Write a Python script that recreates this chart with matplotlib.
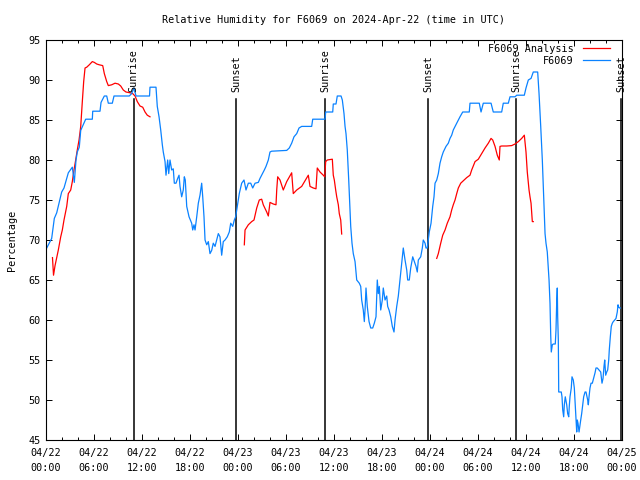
import matplotlib
matplotlib.use("Agg")
import matplotlib.pyplot as plt
import numpy as np

# ---------------- data ----------------
title = "Relative Humidity for F6069 on 2024-Apr-22 (time in UTC)"
ylabel = "Percentage"

# hours since 2024-04-22 00:00 UTC
obs_hours = [0.09, 0.71, 1.04, 1.34, 1.96, 2.25, 2.79, 3.29, 3.54, 3.75, 3.91, 4.16, 4.34, 4.96,
             5.79, 5.84, 6.75, 6.88, 7.29, 7.59, 7.79, 8.29, 8.5, 10.41, 10.71, 11.0, 11.25,
             12.94, 13.0, 13.75, 13.91, 14.13, 14.34, 14.54, 14.66, 14.88, 15.0, 15.21, 15.34,
             15.5, 15.71, 15.91, 16.04, 16.25, 16.46, 16.63, 16.75, 16.96, 17.16, 17.29, 17.41,
             17.59, 17.88, 18.21, 18.34, 18.5, 18.63, 18.84, 19.04, 19.25, 19.46, 19.59, 19.75,
             19.88, 20.09, 20.29, 20.5, 20.71, 20.91, 21.13, 21.34, 21.54, 21.75, 21.96, 22.16,
             22.38, 22.66, 22.91, 23.09, 23.34, 23.54, 23.71, 23.91, 24.16, 24.46, 24.75, 25.0,
             25.29, 25.59, 25.84, 26.13, 26.54, 26.75, 26.96, 27.29, 27.5, 27.79, 28.0, 28.21,
             30.09, 30.41, 30.71, 31.0, 31.34, 31.63, 31.96, 33.21, 33.34, 34.88, 34.96, 35.84,
             35.91, 36.25, 36.41, 36.88, 37.04, 37.25, 37.38, 37.5, 37.66, 37.84, 37.96, 38.09,
             38.25, 38.41, 38.63, 38.84, 39.16, 39.34, 39.46, 39.66, 39.79, 39.88, 40.0, 40.16,
             40.38, 40.59, 40.84, 41.04, 41.25, 41.41, 41.54, 41.66, 41.84, 42.04, 42.16, 42.38,
             42.59, 42.71, 42.88, 43.09, 43.29, 43.5, 43.63, 43.84, 44.04, 44.25, 44.46, 44.66,
             44.88, 45.09, 45.21, 45.41, 45.59, 45.84, 46.04, 46.25, 46.41, 46.54, 46.84, 47.04,
             47.16, 47.38, 47.5, 47.66, 47.79, 47.91, 48.13, 48.34, 48.5, 48.63, 48.84, 49.04,
             49.25, 49.46, 49.66, 50.0, 50.29, 50.5, 50.71, 50.91, 51.13, 51.34, 51.54, 51.75,
             52.09, 52.91, 53.0, 54.16, 54.38, 54.66, 55.63, 55.91, 56.96, 57.16, 57.79, 58.0,
             58.63, 58.84, 59.79, 60.0, 60.29, 60.63, 60.91, 61.46, 61.63, 61.84, 62.04, 62.25,
             62.38, 62.5, 62.66, 62.75, 62.88, 63.0, 63.09, 63.16, 63.29, 63.41, 63.66, 63.75,
             63.84, 63.91, 63.96, 64.04, 64.09, 64.41, 64.5, 64.59, 64.71, 64.79, 64.91, 65.09,
             65.21, 65.34, 65.41, 65.5, 65.66, 65.75, 65.91, 66.04, 66.13, 66.25, 66.34, 66.41,
             66.5, 66.63, 66.75, 66.84, 66.96, 67.09, 67.21, 67.38, 67.5, 67.71, 67.79, 67.88,
             68.0, 68.13, 68.29, 68.5, 68.63, 68.75, 68.91, 69.34, 69.5, 69.63, 69.75, 69.84,
             69.96, 70.09, 70.21, 70.34, 70.41, 70.54, 70.66, 70.79, 70.91, 71.09, 71.25, 71.41,
             71.5, 71.59, 71.71, 71.79]
obs_rh = [69.0, 70.2, 72.7, 73.4, 76.0, 76.5, 78.4, 79.1, 77.2, 80.0, 81.0, 81.6, 83.7, 85.1,
          85.1, 86.1, 86.1, 87.2, 88.0, 88.0, 87.1, 87.1, 88.0, 88.0, 88.3, 89.0, 88.0,
          88.0, 89.1, 89.1, 86.7, 85.4, 83.75, 81.9, 81.0, 79.8, 78.1, 80.0, 78.3,
          80.0, 78.75, 78.9, 77.1, 77.1, 77.7, 78.1, 76.7, 75.4, 76.25, 77.9, 77.5,
          74.2, 72.9, 72.1, 71.25, 71.9, 71.25, 72.9, 74.6, 75.6, 77.1, 75.4, 72.9,
          70.0, 69.4, 69.8, 68.3, 68.7, 69.6, 69.2, 70.0, 70.8, 70.4, 68.1, 69.8,
          70.0, 70.4, 71.0, 72.1, 71.7, 72.5, 72.9, 74.2, 75.8, 77.1, 77.5, 76.25,
          77.1, 77.1, 76.5, 77.1, 77.2, 77.7, 78.1, 78.75, 79.2, 80.0, 81.0, 81.1,
          81.2, 81.5, 82.1, 82.9, 83.3, 84.0, 84.2, 84.2, 85.1, 85.1, 86.0, 86.0,
          87.0, 87.0, 88.0, 88.0, 87.5, 85.8, 84.2, 83.3, 81.25, 77.5, 74.6, 71.7,
          69.6, 68.3, 67.3, 65.0, 64.6, 64.2, 62.5, 61.25, 59.8, 61.25, 64.0, 61.7,
          59.8, 59.0, 59.0, 59.6, 60.4, 65.0, 63.3, 64.2, 61.25, 62.5, 64.0, 62.5,
          63.0, 61.7, 61.25, 60.4, 59.2, 58.5, 60.0, 61.7, 63.0, 65.0, 67.1, 69.0,
          67.5, 66.25, 65.0, 65.0, 66.5, 67.9, 67.3, 66.7, 66.0, 67.5, 67.9, 69.0,
          70.0, 69.6, 69.0, 69.0, 70.0, 71.0, 72.1, 74.2, 75.4, 77.1, 77.5, 78.3,
          79.6, 80.4, 81.0, 81.7, 82.1, 82.7, 83.1, 83.75, 84.2, 84.6, 85.0, 85.4,
          86.0, 86.0, 87.1, 87.1, 86.0, 87.1, 87.1, 86.0, 86.0, 87.1, 87.1, 87.9,
          87.9, 88.1, 88.1, 89.0, 90.0, 90.2, 91.0, 91.0, 88.3, 84.2, 80.0, 74.2,
          70.8, 69.6, 68.5, 67.1, 65.0, 62.1, 58.1, 56.0, 56.9, 57.0, 57.0, 58.75,
          62.3, 64.0, 60.4, 57.5, 51.0, 51.0, 50.4, 48.75, 47.9, 49.4, 50.4, 49.4,
          48.3, 47.9, 49.2, 50.4, 51.5, 52.9, 52.5, 51.5, 49.8, 47.3, 46.0, 47.5,
          47.1, 46.0, 46.9, 47.5, 48.3, 49.4, 50.4, 51.0, 51.0, 50.0, 49.4, 50.4,
          51.5, 52.1, 52.1, 52.9, 53.4, 54.0, 54.0, 53.5, 52.1, 52.7, 54.2, 55.0,
          53.1, 53.5, 53.75, 55.0, 56.25, 57.9, 59.2, 59.6, 59.8, 60.0, 60.2, 61.0,
          61.9, 61.6, 61.5, 61.5]

ana1_hours = [0.81, 0.94, 1.13, 1.54, 1.84, 2.04, 2.25, 2.59, 2.79, 3.09, 3.29, 3.5, 3.71, 3.91,
              4.13, 4.34, 4.54, 4.71, 4.88, 5.09, 5.41, 5.79, 6.04, 6.34, 6.66, 7.09, 7.29,
              7.59, 7.79, 8.21, 8.63, 9.04, 9.34, 9.66, 10.0, 10.5, 10.84, 11.13, 11.41, 11.75,
              12.09, 12.38, 12.66, 13.0]
ana1_rh = [67.8, 65.6, 66.8, 68.75, 70.4, 71.25, 72.5, 74.2, 75.8, 76.25, 77.3, 78.75, 80.0, 81.25,
           82.5, 84.2, 87.3, 89.8, 91.5, 91.6, 91.9, 92.3, 92.2, 92.0, 91.9, 91.8, 90.8,
           89.8, 89.3, 89.4, 89.6, 89.5, 89.25, 88.75, 88.5, 88.4, 88.3, 88.0, 87.3, 86.75,
           86.6, 86.0, 85.6, 85.4]

ana2_hours = [24.79, 24.88, 25.29, 25.71, 26.0, 26.34, 26.66, 26.96, 27.16, 27.59, 27.79, 28.0,
              28.41, 28.75, 28.84, 28.96, 29.25, 29.66, 30.09, 30.71, 30.91, 31.34, 31.96, 32.79,
              33.0, 33.41, 33.75, 33.91, 34.25, 34.66, 34.84, 34.96, 35.16, 35.79, 35.91, 36.04,
              36.21, 36.34, 36.54, 36.66, 36.84, 36.96]
ana2_rh = [69.4, 71.25, 71.9, 72.3, 72.5, 74.0, 75.0, 75.1, 74.4, 73.5, 73.0, 74.7,
           74.5, 74.4, 76.25, 77.9, 77.5, 76.25, 77.3, 78.4, 75.8, 76.25, 76.7, 78.1,
           76.7, 76.5, 76.4, 79.0, 78.5, 78.1, 77.9, 79.8, 80.0, 80.1, 78.1, 77.5,
           76.25, 75.4, 74.4, 73.3, 72.5, 70.75]

ana3_hours = [48.84, 49.04, 49.34, 49.59, 49.88, 50.16, 50.5, 50.71, 50.91, 51.13, 51.34, 51.54,
              51.84, 52.16, 52.59, 53.0, 53.21, 53.41, 53.63, 54.04, 54.46, 54.88, 55.29, 55.63,
              55.84, 56.13, 56.41, 56.66, 56.75, 56.96, 57.59, 58.21, 58.63, 59.04, 59.46, 59.79,
              60.0, 60.16, 60.38, 60.5, 60.63, 60.79, 60.91]
ana3_rh = [67.7, 68.3, 69.6, 70.6, 71.25, 72.1, 72.9, 73.75, 74.4, 75.0, 75.8, 76.5,
           77.1, 77.4, 77.8, 78.1, 78.75, 79.25, 79.8, 80.1, 80.8, 81.5, 82.1, 82.7,
           82.5, 81.7, 80.6, 80.0, 81.7, 81.75, 81.75, 81.8, 82.0, 82.3, 82.7, 83.1,
           81.0, 78.5, 76.25, 75.4, 74.6, 72.3, 72.3]

sun_labels = ["Sunrise", "Sunset", "Sunrise", "Sunset", "Sunrise", "Sunset"]
sun_hours = [10.95, 23.75, 34.9, 47.8, 58.8, 71.9]

xtick_hours = list(range(0, 73, 6))
xtick_labels = ["04/22\n00:00", "04/22\n06:00", "04/22\n12:00", "04/22\n18:00",
                "04/23\n00:00", "04/23\n06:00", "04/23\n12:00", "04/23\n18:00",
                "04/24\n00:00", "04/24\n06:00", "04/24\n12:00", "04/24\n18:00",
                "04/25\n00:00"]
ytick_values = [45, 50, 55, 60, 65, 70, 75, 80, 85, 90, 95]

# ---------------- plot ----------------
FONT = "DejaVu Sans Mono"
FS = 7.3
plt.rcParams["font.family"] = FONT
plt.rcParams["font.size"] = FS

fig = plt.figure(figsize=(6.4, 4.8), dpi=100)
ax = fig.add_axes([46 / 640, 40 / 480, 576 / 640, 400 / 480])

RED = "#ff0000"
BLUE = "#0a82ff"

for t, lab in zip(sun_hours, sun_labels):
    ax.axvline(t, ymin=0, ymax=0.8525, color="black", lw=1.1, zorder=1)
    ax.text(t, 0.87, lab, transform=ax.get_xaxis_transform(), rotation=90,
            ha="center", va="bottom", fontsize=FS, clip_on=False, zorder=3)

ax.plot(ana1_hours, ana1_rh, color=RED, lw=0.9, label="F6069 Analysis", zorder=2)
ax.plot(ana2_hours, ana2_rh, color=RED, lw=0.9, zorder=2)
ax.plot(ana3_hours, ana3_rh, color=RED, lw=0.9, zorder=2)
ax.plot(obs_hours, obs_rh, color=BLUE, lw=0.9, label="F6069", zorder=2)

ax.set_xlim(0, 72)
ax.set_ylim(45, 95)
ax.set_xticks(xtick_hours)
ax.set_xticklabels(xtick_labels, linespacing=1.55)
ax.set_xticks(range(0, 73, 2), minor=True)
ax.set_yticks(ytick_values)
ax.set_yticklabels([str(v) for v in ytick_values])

ax.tick_params(axis="both", which="major", direction="in", top=True, right=True,
               length=4, width=0.7, labelsize=FS)
ax.tick_params(axis="x", which="major", pad=6)
ax.tick_params(axis="y", which="major", pad=4)
ax.tick_params(axis="x", which="minor", direction="in", top=True, length=2, width=0.7)
for s in ax.spines.values():
    s.set_linewidth(0.8)

ax.set_title(title, fontsize=FS, pad=12)
ax.set_ylabel(ylabel, fontsize=FS)
ax.yaxis.set_label_coords(-0.050, 0.5)

leg = ax.legend(loc="upper right", bbox_to_anchor=(0.979, 0.99), frameon=False,
                markerfirst=False, borderpad=0, borderaxespad=0, handlelength=2.7,
                handletextpad=0.9, labelspacing=0.2, fontsize=FS)

fig.savefig("out.png", dpi=100)
